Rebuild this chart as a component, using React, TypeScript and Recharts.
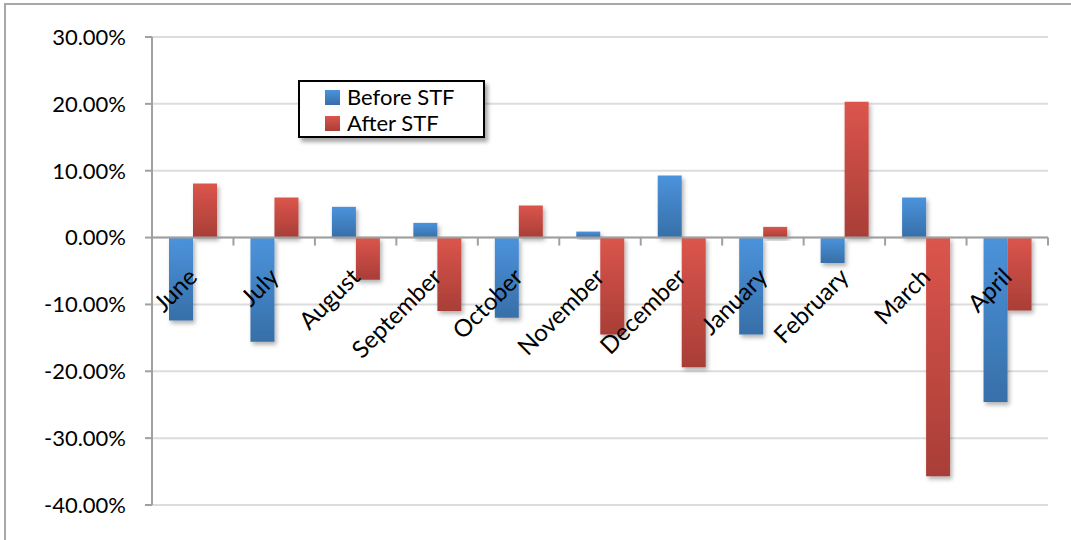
import { BarChart, Bar, CartesianGrid, XAxis, YAxis, ReferenceLine } from "recharts";

const months = [
  "June",
  "July",
  "August",
  "September",
  "October",
  "November",
  "December",
  "January",
  "February",
  "March",
  "April",
];
const beforeStf = [-0.124, -0.156, 0.046, 0.022, -0.12, 0.009, 0.093, -0.145, -0.038, 0.06, -0.246];
const afterStf = [0.081, 0.06, -0.063, -0.11, 0.048, -0.145, -0.194, 0.016, 0.203, -0.357, -0.109];
const yTicks = [-0.4, -0.3, -0.2, -0.1, 0, 0.1, 0.2, 0.3];

const series = [
  { key: "before", name: "Before STF", top: "#4b93dc", bottom: "#376fa8" },
  { key: "after", name: "After STF", top: "#db554c", bottom: "#a83e37" },
];

const data = months.map((month, i) => ({
  month,
  before: beforeStf[i],
  after: afterStf[i],
}));

const W = 1071;
const H = 540;
const X_AXIS_H = 1;
const M = { top: 37, right: 23, bottom: 35 - X_AXIS_H, left: 0 };
const Y_AXIS_W = 152;
const PLOT_W = W - M.left - M.right - Y_AXIS_W;
const PLOT_H = H - M.top - M.bottom - X_AXIS_H;
const Y_MIN = yTicks[0];
const Y_MAX = yTicks[yTicks.length - 1];
const ZERO_Y = M.top + (PLOT_H * Y_MAX) / (Y_MAX - Y_MIN);
const BAND = PLOT_W / months.length;
const FONT = "Lato, 'Open Sans', sans-serif";

const pct = (v: number) => `${(v * 100).toFixed(2)}%`;

// month labels sit on the zero line, with boundary tick marks between months
function MonthTick(props: any) {
  const { x, payload, index } = props;
  const ax = x + 6;
  const ay = ZERO_Y + 41;
  const left = x - BAND / 2;
  const right = x + BAND / 2;
  return (
    <g>
      {index > 0 && (
        <line x1={left} x2={left} y1={ZERO_Y} y2={ZERO_Y + 8} stroke="#a0a0a0" strokeWidth={2} />
      )}
      {index === months.length - 1 && (
        <line x1={right} x2={right} y1={ZERO_Y} y2={ZERO_Y + 8} stroke="#a0a0a0" strokeWidth={2} />
      )}
      <text
        x={ax}
        y={ay}
        textAnchor="end"
        fontFamily={FONT}
        fontSize={24}
        fill="#000"
        transform={`rotate(-45, ${ax}, ${ay})`}
      >
        {payload.value}
      </text>
    </g>
  );
}

export default function App() {
  return (
    <div style={{ position: "absolute", left: 0, top: 0, width: W, height: H, background: "#fff", overflow: "hidden" }}>
      <div
        style={{
          position: "absolute",
          left: 4,
          top: 3,
          width: W,
          height: H,
          borderLeft: "2px solid #a8a8a8",
          borderTop: "2px solid #a8a8a8",
        }}
      />
      <div style={{ position: "absolute", left: 0, top: 0 }}>
        <BarChart width={W} height={H} data={data} margin={M} barGap={0} barSize={24}>
          <defs>
            {series.map((s) => (
              <linearGradient key={s.key} id={`grad-${s.key}`} x1="0" y1="0" x2="0" y2="1">
                <stop offset="0%" stopColor={s.top} />
                <stop offset="100%" stopColor={s.bottom} />
              </linearGradient>
            ))}
            <filter id="barShadow" x="-20%" y="-20%" width="150%" height="150%">
              <feDropShadow dx="2" dy="3" stdDeviation="2" floodColor="#000" floodOpacity="0.3" />
            </filter>
          </defs>
          <CartesianGrid vertical={false} stroke="#dcdcdc" strokeWidth={2} />
          <XAxis
            dataKey="month"
            height={X_AXIS_H}
            axisLine={false}
            tickLine={false}
            tick={(p: any) => <MonthTick {...p} />}
            interval={0}
          />
          <YAxis
            width={Y_AXIS_W}
            domain={[Y_MIN, Y_MAX]}
            ticks={yTicks}
            tickFormatter={pct}
            axisLine={{ stroke: "#a0a0a0", strokeWidth: 2 }}
            tickLine={{ stroke: "#a0a0a0", strokeWidth: 2 }}
            tickSize={7}
            tickMargin={19}
            tick={{ fontFamily: FONT, fontSize: 22, fill: "#000" }}
          />
          {series.map((s) => (
            <Bar
              key={s.key}
              dataKey={s.key}
              name={s.name}
              fill={`url(#grad-${s.key})`}
              filter="url(#barShadow)"
              isAnimationActive={false}
            />
          ))}
          <ReferenceLine y={0} stroke="#a0a0a0" strokeWidth={2} />
        </BarChart>
      </div>
      <div
        style={{
          position: "absolute",
          left: 298,
          top: 80,
          width: 187,
          height: 58,
          border: "2px solid #000",
          background: "#fff",
          boxShadow: "3px 4px 4px rgba(0,0,0,0.35)",
          fontFamily: FONT,
          fontSize: 22,
          lineHeight: "26px",
          paddingTop: 2,
          boxSizing: "border-box",
        }}
      >
        {series.map((s) => (
          <div key={s.key} style={{ display: "flex", alignItems: "center", paddingLeft: 25 }}>
            <span
              style={{
                display: "inline-block",
                width: 15,
                height: 15,
                marginRight: 7,
                background: `linear-gradient(${s.top}, ${s.bottom})`,
              }}
            />
            <span>{s.name}</span>
          </div>
        ))}
      </div>
    </div>
  );
}
